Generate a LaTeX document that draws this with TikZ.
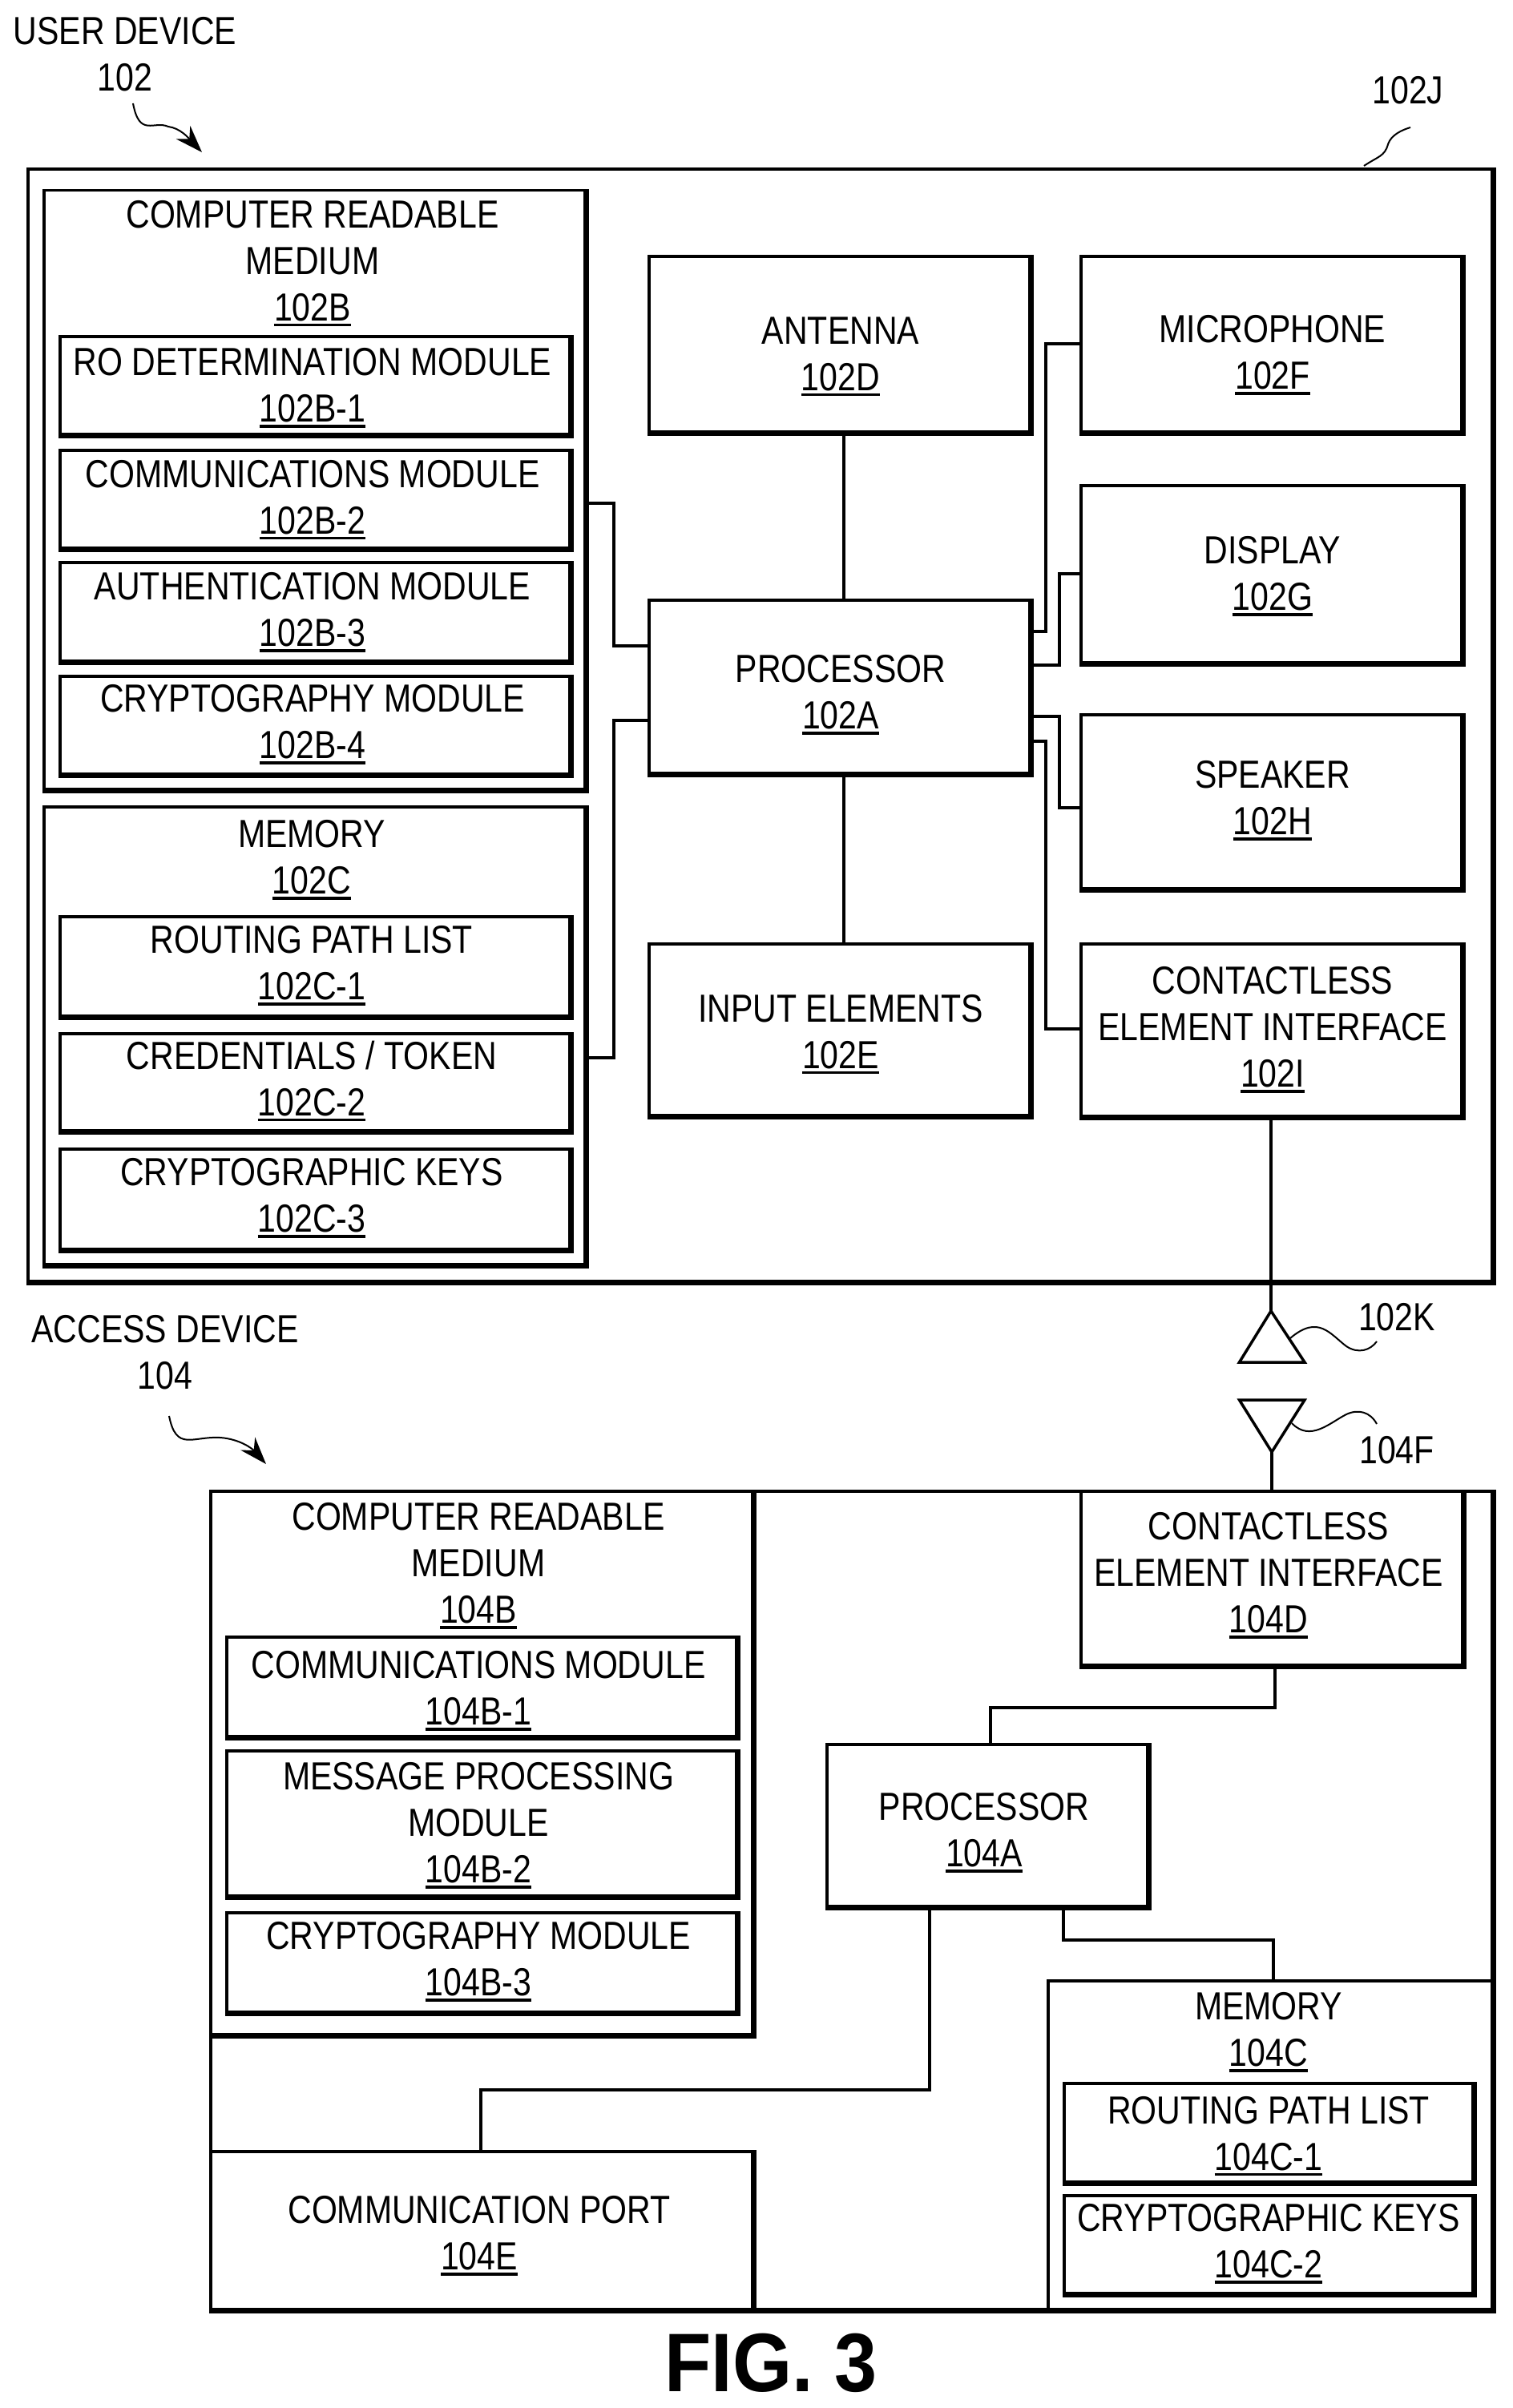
\documentclass[tikz,border=0pt]{standalone}
\usepackage{fontspec}
\setmainfont[FakeStretch=0.84]{Liberation Sans}
\newfontfamily\figfont[FakeStretch=0.92]{Liberation Sans}
\usetikzlibrary{fit,arrows.meta}
\newcommand{\refnum}[1]{\setbox0\hbox{#1}\rlap{\vrule width\wd0 height -1.1pt depth 2pt}\box0}
\tikzset{
  box/.style={draw=black,line width=.04cm,inner sep=0pt,outer sep=0pt,path picture={
    \draw[line width=.11cm] (path picture bounding box.north east) -- (path picture bounding box.south east) -- (path picture bounding box.south west);}},
  lbl/.style={text=black,align=center,inner sep=0pt,font=\fontsize{13.9}{16.5}\selectfont},
  conn/.style={draw=black,line width=.04cm},
  leader/.style={draw=black,line width=.02cm},
  aerial/.style={draw=black,line width=.035cm,line join=miter},
}
\begin{document}
\begin{tikzpicture}[y=-1cm]
\useasboundingbox (0,0) rectangle (18.88,30.05);

% user device boxes:
\node[box,fit={(.35,2.11) (18.65,16.02)}] (userDev) {};
\node[box,fit={(.55,2.375) (7.33,9.88)}] (uCrm) {};
\node[box,fit={(.75,4.2) (7.14,5.45)}] (uRo) {};
\node[box,fit={(.75,5.62) (7.14,6.87)}] (uComm) {};
\node[box,fit={(.75,7.02) (7.14,8.28)}] (uAuth) {};
\node[box,fit={(.75,8.44) (7.14,9.69)}] (uCrypt) {};
\node[box,fit={(.55,10.07) (7.33,15.81)}] (uMem) {};
\node[box,fit={(.75,11.44) (7.14,12.71)}] (uRoute) {};
\node[box,fit={(.75,12.9) (7.14,14.14)}] (uCred) {};
\node[box,fit={(.75,14.34) (7.14,15.62)}] (uKeys) {};
\node[box,fit={(8.1,3.2) (12.88,5.42)}] (uAnt) {};
\node[box,fit={(8.1,7.49) (12.88,9.68)}] (uProc) {};
\node[box,fit={(8.1,11.78) (12.88,13.95)}] (uInput) {};
\node[box,fit={(13.49,3.2) (18.27,5.42)}] (uMic) {};
\node[box,fit={(13.49,6.06) (18.27,8.3)}] (uDisp) {};
\node[box,fit={(13.49,8.92) (18.27,11.12)}] (uSpk) {};
\node[box,fit={(13.49,11.78) (18.27,13.96)}] (uCei) {};

% access device boxes:
\node[box,fit={(2.63,18.61) (18.65,28.85)}] (accDev) {};
\node[box,fit={(2.63,18.61) (9.42,25.42)}] (aCrm) {};
\node[box,fit={(2.83,20.43) (9.22,21.7)}] (aComm) {};
\node[box,fit={(2.83,21.85) (9.22,23.69)}] (aMsg) {};
\node[box,fit={(2.83,23.87) (9.22,25.14)}] (aCrypt) {};
\node[box,fit={(13.49,18.61) (18.28,20.81)}] (aCei) {};
\node[box,fit={(10.32,21.77) (14.35,23.82)}] (aProc) {};
\node[box,fit={(13.08,24.72) (18.65,28.85)}] (aMem) {};
\node[box,fit={(13.28,26) (18.41,27.26)}] (aRoute) {};
\node[box,fit={(13.28,27.4) (18.41,28.65)}] (aKeys) {};
\node[box,fit={(2.63,26.85) (9.42,28.85)}] (aPort) {};

% labels of user device:
\path (1.56,.68) node[lbl] (userTxt) {USER DEVICE\\102};
\path (17.57,1.13) node[lbl] (userDevTxt) {102J};
\path (3.9,3.285) node[lbl] (uCrmTxt) {COMPUTER READABLE\\MEDIUM\\\refnum{102B}};
\path (3.9,4.84) node[lbl] (uRoTxt) {RO DETERMINATION MODULE\\\refnum{102B-1}};
\path (3.9,6.235) node[lbl] (uCommTxt) {COMMUNICATIONS MODULE\\\refnum{102B-2}};
\path (3.9,7.64) node[lbl] (uAuthTxt) {AUTHENTICATION MODULE\\\refnum{102B-3}};
\path (3.9,9.04) node[lbl] (uCryptTxt) {CRYPTOGRAPHY MODULE\\\refnum{102B-4}};
\path (3.89,10.73) node[lbl] (uMemTxt) {MEMORY\\\refnum{102C}};
\path (3.89,12.05) node[lbl] (uRouteTxt) {ROUTING PATH LIST\\\refnum{102C-1}};
\path (3.89,13.49) node[lbl] (uCredTxt) {CREDENTIALS / TOKEN\\\refnum{102C-2}};
\path (3.89,14.95) node[lbl] (uKeysTxt) {CRYPTOGRAPHIC KEYS\\\refnum{102C-3}};
\path (10.49,4.45) node[lbl] (uAntTxt) {ANTENNA\\\refnum{102D}};
\path (10.49,8.67) node[lbl] (uProcTxt) {PROCESSOR\\\refnum{102A}};
\path (10.49,12.905) node[lbl] (uInputTxt) {INPUT ELEMENTS\\\refnum{102E}};
\path (15.88,4.43) node[lbl] (uMicTxt) {MICROPHONE\\\refnum{102F}};
\path (15.88,7.19) node[lbl] (uDispTxt) {DISPLAY\\\refnum{102G}};
\path (15.88,9.99) node[lbl] (uSpkTxt) {SPEAKER\\\refnum{102H}};
\path (15.88,12.85) node[lbl] (uCeiTxt) {CONTACTLESS\\ELEMENT INTERFACE\\\refnum{102I}};

% labels of access device:
\path (2.06,16.875) node[lbl] (accTxt) {ACCESS DEVICE\\104};
\path (17.43,16.44) node[lbl] (antKTxt) {102K};
\path (17.43,18.1) node[lbl] (antFTxt) {104F};
\path (5.97,19.54) node[lbl] (aCrmTxt) {COMPUTER READABLE\\MEDIUM\\\refnum{104B}};
\path (5.97,21.1) node[lbl] (aCommTxt) {COMMUNICATIONS MODULE\\\refnum{104B-1}};
\path (5.97,22.78) node[lbl] (aMsgTxt) {MESSAGE PROCESSING\\MODULE\\\refnum{104B-2}};
\path (5.97,24.48) node[lbl] (aCryptTxt) {CRYPTOGRAPHY MODULE\\\refnum{104B-3}};
\path (15.83,19.66) node[lbl] (aCeiTxt) {CONTACTLESS\\ELEMENT INTERFACE\\\refnum{104D}};
\path (12.28,22.87) node[lbl] (aProcTxt) {PROCESSOR\\\refnum{104A}};
\path (15.83,25.36) node[lbl] (aMemTxt) {MEMORY\\\refnum{104C}};
\path (15.83,26.655) node[lbl] (aRouteTxt) {ROUTING PATH LIST\\\refnum{104C-1}};
\path (15.83,28) node[lbl] (aKeysTxt) {CRYPTOGRAPHIC KEYS\\\refnum{104C-2}};
\path (5.98,27.9) node[lbl] (aPortTxt) {COMMUNICATION PORT\\\refnum{104E}};
\path (9.62,29.49) node[text=black,inner sep=0pt,font=\figfont\fontsize{29.5}{31}\selectfont\bfseries] (figTxt) {FIG. 3};

% connectors of user device:
\draw[conn] (uCrm.east |- 0,6.28) -| (7.66,8.06) -- (uProc.west |- 0,8.06);
\draw[conn] (uMem.east |- 0,13.2) -| (7.66,8.99) -- (uProc.west |- 0,8.99);
\draw[conn] ([xshift=.04cm]uAnt.south) -- ([xshift=.04cm]uProc.north);
\draw[conn] ([xshift=.04cm]uProc.south) -- ([xshift=.04cm]uInput.north);
\draw[conn] (uProc.east |- 0,7.875) -| (13.05,4.29) -- (uMic.west |- 0,4.29);
\draw[conn] (uProc.east |- 0,8.3) -| (13.22,7.16) -- (uDisp.west |- 0,7.16);
\draw[conn] (uProc.east |- 0,8.94) -| (13.22,10.08) -- (uSpk.west |- 0,10.08);
\draw[conn] (uProc.east |- 0,9.25) -| (13.05,12.84) -- (uCei.west |- 0,12.84);

% aerials:
\coordinate (antK) at (15.86,16.36);
\coordinate (antF) at (15.87,18.12);
\draw[conn] (antK |- uCei.south) -- (antK);
\draw[aerial] (antK) -- (15.465,17) -- (16.28,17) -- cycle;
\draw[conn] (antF) -- (antF |- accDev.north);
\draw[aerial] (antF) -- (15.465,17.47) -- (16.28,17.47) -- cycle;

% connectors of access device:
\draw[conn] (aCei.south -| 15.91,0) |- (12.36,21.31) -- (aProc.north -| 12.36,0);
\draw[conn] (aProc.south -| 13.27,0) |- (15.89,24.21) -- (aMem.north -| 15.89,0);
\draw[conn] (aProc.south -| 11.6,0) |- (6,26.08) -- (aPort.north -| 6,0);

% leaders:
\coordinate (arrowA) at (1.66,1.29);
\coordinate (arrowB) at (2.52,1.9);
\draw[leader,-{Stealth[length=.34cm,width=.24cm]}] (arrowA) .. controls (1.74,1.72) and (1.92,1.5) .. (2.1,1.58) .. controls (2.25,1.6) and (2.35,1.72) .. (arrowB);
\coordinate (arrowC) at (2.11,17.67);
\coordinate (arrowD) at (3.32,18.27);
\draw[leader,-{Stealth[length=.34cm,width=.24cm]}] (arrowC) .. controls (2.2,18.12) and (2.4,17.92) .. (2.75,17.94) .. controls (3,17.96) and (3.15,18.08) .. (arrowD);
\draw[leader] (17.02,2.07) .. controls (17.2,1.95) and (17.28,1.95) .. (17.32,1.8) .. controls (17.36,1.68) and (17.5,1.62) .. (17.6,1.59);
\draw[leader] (16.1,16.7) .. controls (16.45,16.4) and (16.6,16.65) .. (16.8,16.8) .. controls (16.95,16.9) and (17.1,16.85) .. (17.18,16.74);
\draw[leader] (16.12,17.76) .. controls (16.35,18) and (16.6,17.75) .. (16.8,17.65) .. controls (16.95,17.58) and (17.1,17.62) .. (17.18,17.77);

\end{tikzpicture}
\end{document}
